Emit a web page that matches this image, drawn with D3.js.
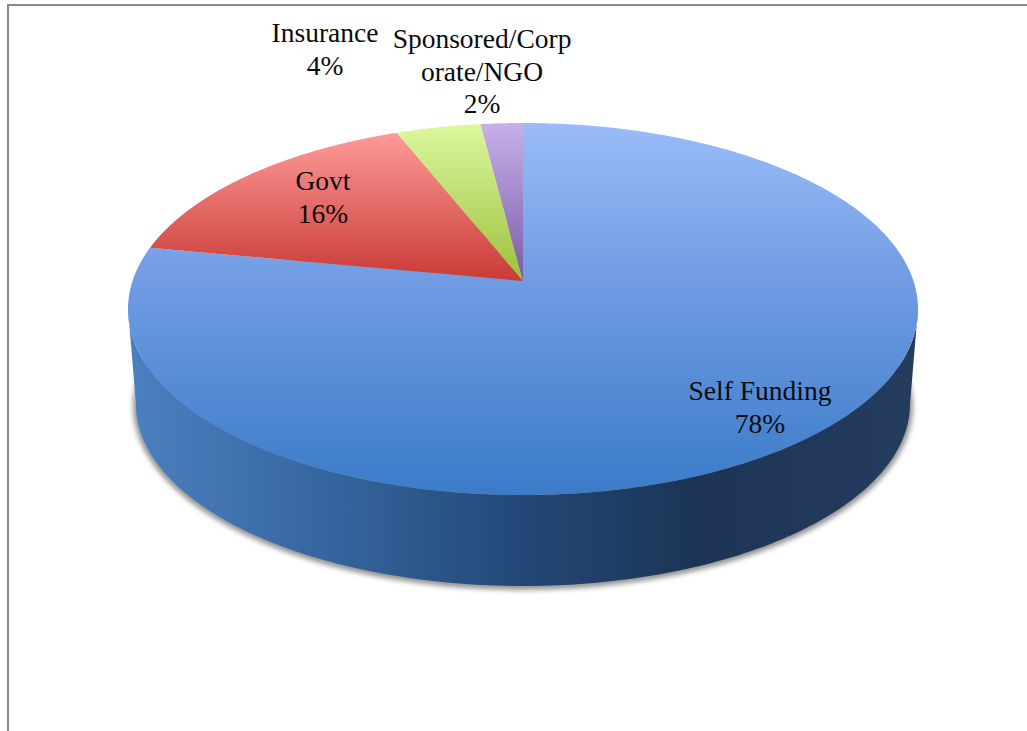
<!DOCTYPE html>
<html>
<head>
<meta charset="utf-8">
<script src="https://cdnjs.cloudflare.com/ajax/libs/d3/7.8.5/d3.min.js"></script>
<style>
html,body{margin:0;padding:0;background:#fff;overflow:hidden}
svg{display:block}
text{font-family:"Liberation Serif",serif;font-size:27.5px;fill:#0a0a0a;text-anchor:middle}
</style>
</head>
<body>
<svg id="chart" width="1027" height="731"></svg>
<script>
// Funding sources, share of total (%)
const categories = ["Self Funding", "Govt", "Insurance", "Sponsored/Corporate/NGO"];
const shares = [78, 16, 4, 2];
const labelLines = [["Self Funding"], ["Govt"], ["Insurance"], ["Sponsored/Corp", "orate/NGO"]];

// Top-face colours per slice, light (far edge) to dark (near edge)
const faceStops = [
  [["0%", "#9abcf8"], ["45%", "#6e9ae2"], ["100%", "#3a7bc8"]],
  [["0%", "#fe9b99"], ["100%", "#c93a36"]],
  [["0%", "#dbf89e"], ["100%", "#9dc03d"]],
  [["0%", "#c8b0ea"], ["100%", "#7a5aa8"]]
];
const wallStops = [
  ["0%", "#4a7fbf"], ["25%", "#35659f"], ["50%", "#234876"], ["72%", "#1c3556"], ["100%", "#243c5e"]
];
// Centre x and first-line baseline for each label
const labelAnchors = [[760, 400], [323, 190], [325, 42], [482, 48]];
const lineHeight = 32.5;

const svg = d3.select("#chart");
const defs = svg.append("defs");

// Tilted-disc projection: disc coordinates (u right, v toward viewer) to the page
const cx = 523, apexY = 281, kx = 390.5, ky = 181.8, persp = 0.1505;
const project = (theta) => {
  const u = Math.sin(theta), v = -Math.cos(theta), w = 1 - persp * v;
  return [cx + kx * u / w, apexY + ky * v / w];
};

const pie = d3.pie().sort(null).value(d => d)(shares);
const line = d3.line();
const arcPoints = (a0, a1) => d3.range(0, 241).map(i => project(a0 + (a1 - a0) * i / 240));

// Lower rim of the disc, a slightly narrower ellipse
const lower = { cy: 404, rx: 387, ry: 182 };
const upperCy = 309, upperRx = 395, upperRy = 186;
const ellipsePts = (cy, rx, ry, t0, t1) =>
  d3.range(0, 181).map(i => {
    const t = t0 + (t1 - t0) * i / 180;
    return [cx + rx * Math.cos(t), cy + ry * Math.sin(t)];
  });

// Page frame
svg.append("path")
  .attr("d", "M8,731V5H1027")
  .attr("fill", "none").attr("stroke", "#8a8a8a").attr("stroke-width", 2);

// Soft shadow under the wall
defs.append("filter").attr("id", "soft")
  .attr("x", "-5%").attr("y", "-5%").attr("width", "110%").attr("height", "110%")
  .append("feGaussianBlur").attr("stdDeviation", 2.6);
svg.append("ellipse")
  .attr("cx", cx).attr("cy", lower.cy + 2)
  .attr("rx", lower.rx + 3).attr("ry", lower.ry + 2)
  .attr("fill", "#555").attr("opacity", 0.62).attr("filter", "url(#soft)");

// Side wall
const wallGrad = defs.append("linearGradient").attr("id", "wall")
  .attr("gradientUnits", "userSpaceOnUse")
  .attr("x1", cx - lower.rx).attr("x2", cx + lower.rx).attr("y1", 0).attr("y2", 0);
wallStops.forEach(s => wallGrad.append("stop").attr("offset", s[0]).attr("stop-color", s[1]));
const wallOutline = ellipsePts(upperCy, upperRx, upperRy, Math.PI, 0)
  .concat(ellipsePts(lower.cy, lower.rx, lower.ry, 0, Math.PI));
svg.append("path").attr("d", line(wallOutline) + "Z").attr("fill", "url(#wall)");

// Top face slices
pie.forEach((p, i) => {
  const pts = arcPoints(p.startAngle, p.endAngle);
  const ys = pts.map(d => d[1]).concat(apexY);
  const g = defs.append("linearGradient").attr("id", "face" + i)
    .attr("gradientUnits", "userSpaceOnUse")
    .attr("x1", 0).attr("x2", 0).attr("y1", d3.min(ys)).attr("y2", d3.max(ys));
  faceStops[i].forEach(s => g.append("stop").attr("offset", s[0]).attr("stop-color", s[1]));
  svg.append("path")
    .attr("d", line([[cx, apexY], ...pts]) + "Z")
    .attr("fill", `url(#face${i})`);
});

// Data labels: name lines, then the share
categories.forEach((c, i) => {
  const [x, y] = labelAnchors[i];
  const text = svg.append("text").attr("x", x).attr("y", y);
  labelLines[i].concat(shares[i] + "%").forEach((s, j) => {
    text.append("tspan").attr("x", x).attr("y", y + j * lineHeight).text(s);
  });
});
</script>
</body>
</html>
